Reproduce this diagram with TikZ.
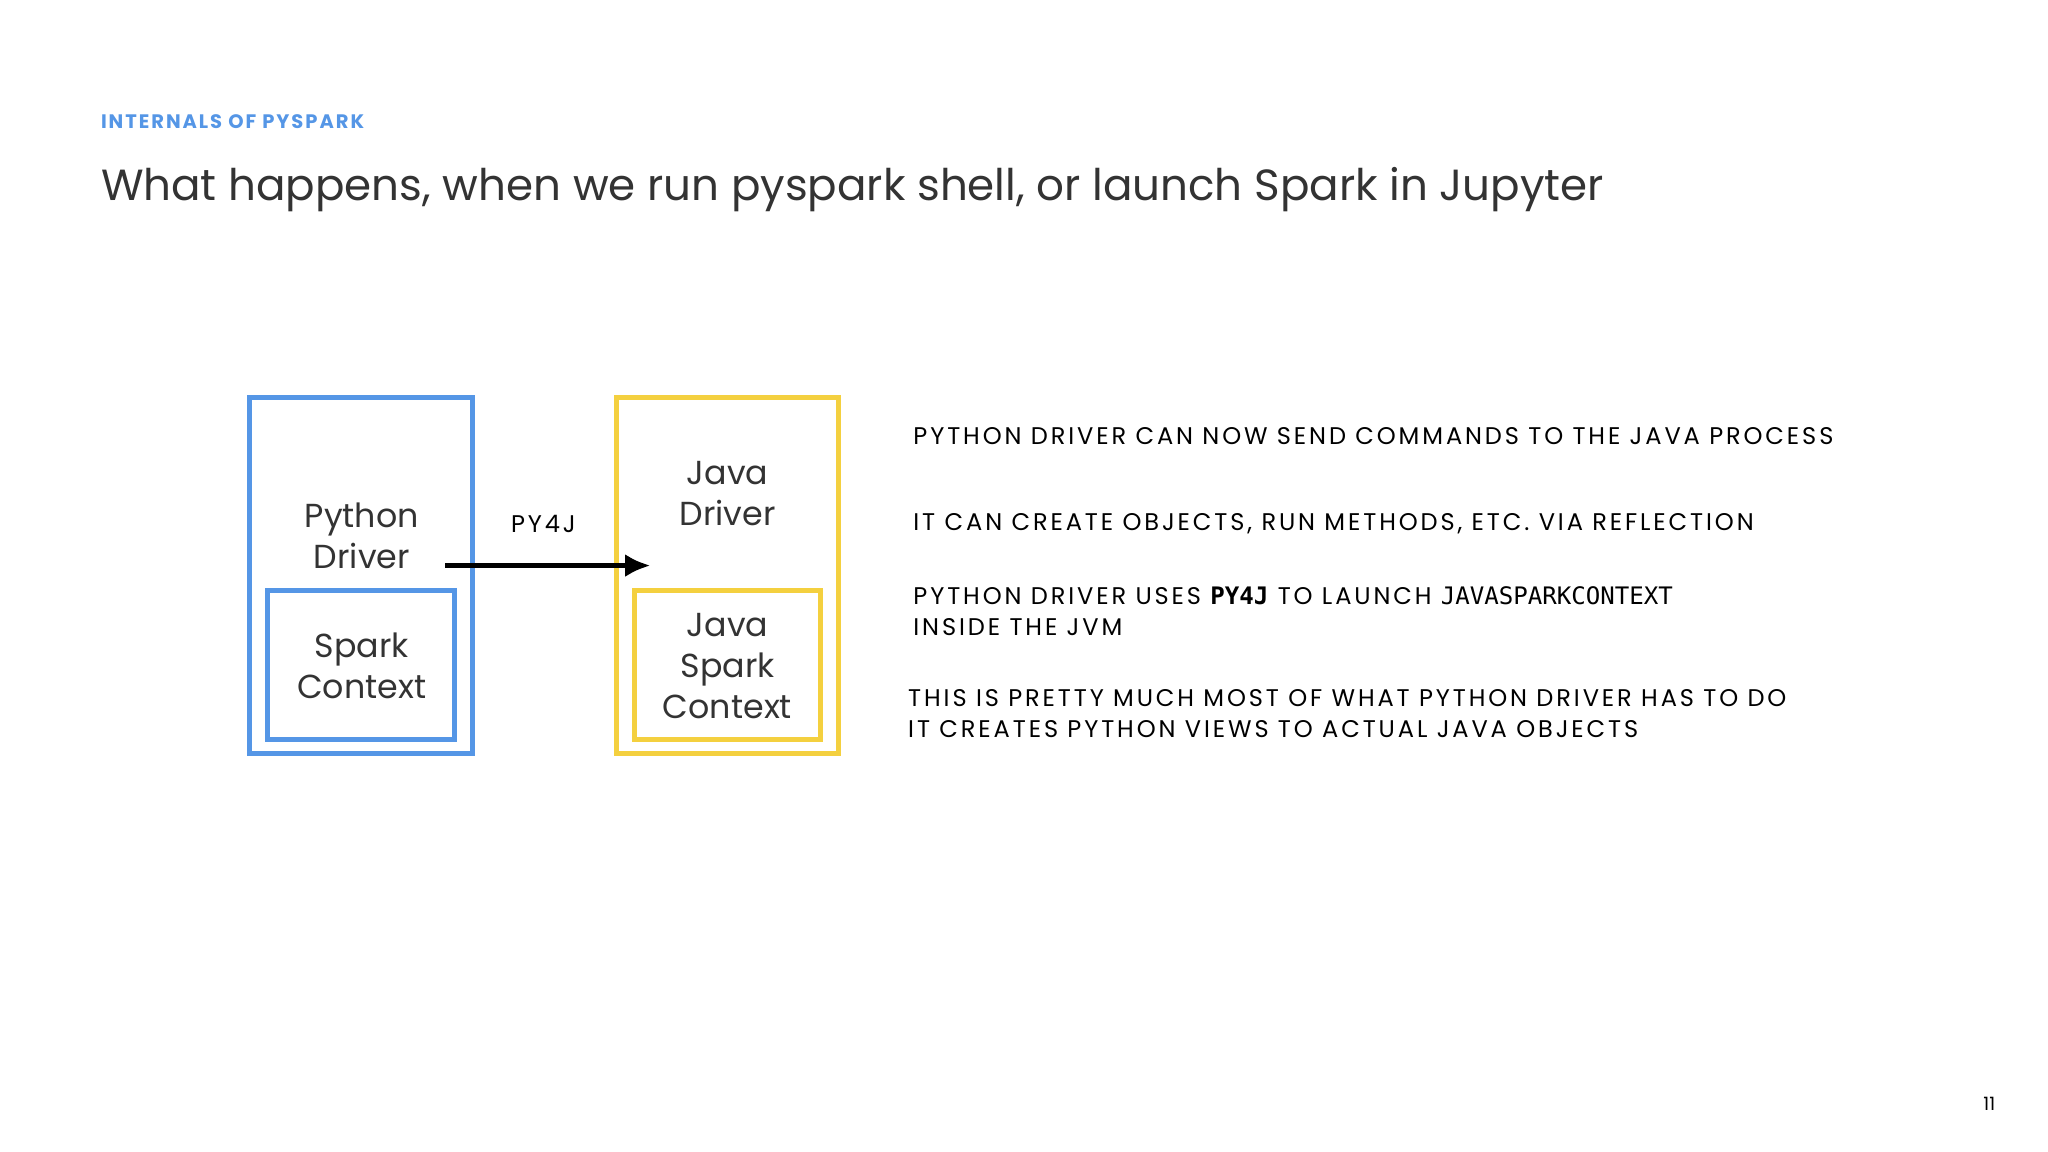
\documentclass[tikz,border=0pt]{standalone}
\usetikzlibrary{arrows.meta}
\usepackage{fontspec}
\setmainfont{Poppins}
\newfontfamily\monof{DejaVu Sans Mono}
\definecolor{bl}{HTML}{5596E6}
\definecolor{yl}{HTML}{F4D03F}
\definecolor{tg}{HTML}{333333}
\begin{document}
\begin{tikzpicture}[x=0.02cm,y=-0.02cm,
  box/.style={draw,line width=2.2pt},
  lbl/.style={font=\fontsize{14.5}{18}\selectfont,align=center,text=tg,inner sep=0},
  captxt/.style={font=\fontsize{10.5}{13.5}\selectfont\addfontfeatures{LetterSpace=12},anchor=west,align=left,inner sep=0,text=black}]
\useasboundingbox (0,0) rectangle (1568,882);
\node[anchor=west,inner sep=0,text=bl,font=\fontsize{8.5}{10}\selectfont\bfseries\addfontfeatures{LetterSpace=10}] (sub) at (77,93) {INTERNALS OF PYSPARK};
\node[anchor=west,inner sep=0,text=tg,font=\fontsize{19}{22}\selectfont] (title) at (77,145) {What happens, when we run pyspark shell, or launch Spark in Jupyter};
\node[box,draw=bl,minimum width=171*0.02cm,minimum height=273*0.02cm] (pb) at (276.5,440.5) {};
\node[box,draw=bl,minimum width=143*0.02cm,minimum height=114*0.02cm] (sc) at (276.5,509) {};
\node[box,draw=yl,minimum width=170*0.02cm,minimum height=273*0.02cm] (jb) at (557,440.5) {};
\node[box,draw=yl,minimum width=142*0.02cm,minimum height=114*0.02cm] (jsc) at (557,509) {};
\node[lbl] (pd) at (277,410) {Python\\Driver};
\node[lbl] (sct) at (277,510) {Spark\\Context};
\node[lbl] (jd) at (557,378) {Java\\Driver};
\node[lbl] (jsct) at (557,510) {Java\\Spark\\Context};
\coordinate (a1) at (341,433);
\coordinate (a2) at (498,433);
\draw[line width=2.5pt,-{Latex[length=11pt,width=10pt]}] (a1) -- (a2);
\node[captxt,anchor=center] (py) at (416,401) {PY4J};
\node[captxt] (t1) at (699,334) {PYTHON DRIVER CAN NOW SEND COMMANDS TO THE JAVA PROCESS};
\node[captxt] (t2) at (699,401) {IT CAN CREATE OBJECTS, RUN METHODS, ETC. VIA REFLECTION};
\node[captxt] (t3) at (699,468) {PYTHON DRIVER USES {\monof\bfseries PY4J} TO LAUNCH {\monof JAVASPARKCONTEXT}\\INSIDE THE JVM};
\node[captxt] (t4) at (695,546) {THIS IS PRETTY MUCH MOST OF WHAT PYTHON DRIVER HAS TO DO\\IT CREATES PYTHON VIEWS TO ACTUAL JAVA OBJECTS};
\node[inner sep=0,font=\fontsize{8}{10}\selectfont] (pg) at (1523,845) {11};
\end{tikzpicture}
\end{document}
